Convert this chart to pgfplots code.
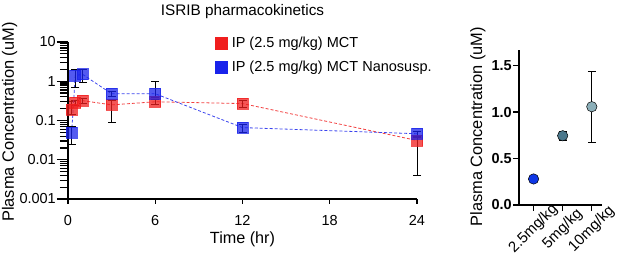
\documentclass[border=0pt]{standalone}
\usepackage{pgfplots}
\pgfplotsset{compat=1.18}
\usepackage{fontspec}
\setmainfont{Liberation Sans}
\definecolor{pkred}{RGB}{240,30,30}
\definecolor{pkblue}{RGB}{25,35,235}
\definecolor{dA}{RGB}{15,55,230}
\definecolor{dB}{RGB}{75,120,140}
\definecolor{dC}{RGB}{140,175,185}
\begin{document}
\fontsize{14.5bp}{17bp}\selectfont
\begin{tikzpicture}
\useasboundingbox (0,0) rectangle (617bp,260bp);
\begin{axis}[
  at={(68bp,61bp)}, anchor=south west, scale only axis,
  width=349bp, height=157bp,
  xmin=0, xmax=24, ymode=log, ymin=0.001, ymax=10,
  axis lines=left, axis line style={-, line width=1.6bp},
  xtick={0,6,12,18,24},
  ytick={0.001,0.01,0.1,1,10},
  yticklabels={0.001,0.01,0.1,1,10},
  minor ytick={0.002,0.003,0.004,0.005,0.006,0.007,0.008,0.009,0.02,0.03,0.04,0.05,0.06,0.07,0.08,0.09,0.2,0.3,0.4,0.5,0.6,0.7,0.8,0.9,2,3,4,5,6,7,8,9},
  tick align=outside,
  major tick length=11bp, minor tick length=8bp,
  xtick style={/pgfplots/major tick length=5bp},
  every tick/.style={black, line width=1.2bp},
  tick label style={font=\fontsize{14.5bp}{17bp}\selectfont},
  /pgf/number format/assume math mode=true,
  yticklabel style={inner sep=1bp},
  title={ISRIB pharmacokinetics},
  title style={at={(axis description cs:0.5,1)}, anchor=base, yshift=21bp, font=\fontsize{15.3bp}{18bp}\selectfont},
  xlabel={Time (hr)},
  xlabel style={at={(axis description cs:0.5,0)}, anchor=center, yshift=-40bp, font=\fontsize{16.2bp}{19bp}\selectfont},
  ylabel={Plasma Concentration (uM)},
  ylabel style={at={(axis description cs:-0.167,0.49)}, anchor=center, font=\fontsize{16.4bp}{19bp}\selectfont},
  clip=false,
  legend style={at={(axis description cs:0.42,1.045)}, anchor=north west, draw=none, fill=none,
    font=\fontsize{14.5bp}{17bp}\selectfont, row sep=7bp, column sep=3bp, inner sep=0pt},
  legend cell align=left,
]
\addlegendimage{only marks, mark=square*, mark size=6bp, mark options={draw=pkred, fill=pkred}}
\addlegendentry{IP (2.5 mg/kg) MCT}
\addlegendimage{only marks, mark=square*, mark size=6bp, mark options={draw=pkblue, fill=pkblue}}
\addlegendentry{IP (2.5 mg/kg) MCT Nanosusp.}
\addplot[pkred!85, densely dashed, line width=0.8bp, mark=square*, mark size=5.5bp,
  mark options={solid, draw=pkred, fill=pkred, opacity=0.75},
  error bars/.cd, y dir=both, y explicit,
  error bar style={black, line width=0.8bp, solid},
  error mark options={rotate=90, mark size=4bp, black, line width=0.8bp}]
coordinates {
 (0.25,0.19) += (0,0.11) -= (0,0.05)
 (0.5,0.28) += (0,0.04) -= (0,0.04)
 (1,0.32) += (0,0.05) -= (0,0.05)
 (3,0.25) += (0,0.08) -= (0,0.16)
 (6,0.30) += (0,0.05) -= (0,0.05)
 (12,0.27) += (0,0.06) -= (0,0.05)
 (24,0.031) += (0,0.008) -= (0,0.027)
};
\addplot[pkblue!85, densely dashed, line width=0.8bp, mark=square*, mark size=5.5bp,
  mark options={solid, draw=pkblue, fill=pkblue, opacity=0.75},
  error bars/.cd, y dir=both, y explicit,
  error bar style={black, line width=0.8bp, solid},
  error mark options={rotate=90, mark size=4bp, black, line width=0.8bp}]
coordinates {
 (0.25,0.049) += (0,0.02) -= (0,0.025)
 (0.5,1.4) += (0,0.6) -= (0,0.7)
 (1,1.5) += (0,0.5) -= (0,0.55)
 (3,0.48) += (0,0.08) -= (0,0.08)
 (6,0.48) += (0,0.52) -= (0,0.1)
 (12,0.066) += (0,0.012) -= (0,0.015)
 (24,0.046) += (0,0.008) -= (0,0.008)
};
\end{axis}
\begin{axis}[
  at={(519bp,55bp)}, anchor=south west, scale only axis,
  width=83bp, height=155bp,
  xmin=-0.5, xmax=2.35, ymin=0, ymax=1.667,
  axis lines=left, axis line style={-, line width=1.6bp},
  xtick={0,1,2}, xticklabels={2.5mg/kg,5mg/kg,10mg/kg},
  ytick={0,0.5,1,1.5},
  yticklabel style={/pgf/number format/fixed, /pgf/number format/fixed zerofill, /pgf/number format/precision=1, font=\bfseries\fontsize{14.5bp}{17bp}\selectfont, inner sep=1bp},
  /pgf/number format/assume math mode=true,
  tick align=outside, major tick length=6bp,
  every tick/.style={black, line width=1.2bp},
  xticklabel style={yshift=-18bp, rotate=45, anchor=center, inner sep=0pt, font=\fontsize{15bp}{17bp}\selectfont},
  ylabel={Plasma Concentration (uM)},
  ylabel style={at={(axis description cs:-0.494,0.505)}, anchor=center, font=\fontsize{16.4bp}{19bp}\selectfont},
  clip=false,
]
\addplot[only marks, mark=*, mark size=5.2bp, mark options={fill=dA, draw=black, line width=0.5bp},
  error bars/.cd, y dir=both, y explicit,
  error bar style={black, line width=0.8bp},
  error mark options={rotate=90, mark size=4bp, black, line width=0.8bp}]
coordinates {(0,0.28) +- (0,0.03)};
\addplot[only marks, mark=*, mark size=5.2bp, mark options={fill=dB, draw=black, line width=0.5bp},
  error bars/.cd, y dir=both, y explicit,
  error bar style={black, line width=0.8bp},
  error mark options={rotate=90, mark size=4bp, black, line width=0.8bp}]
coordinates {(1,0.745) +- (0,0.045)};
\addplot[only marks, mark=*, mark size=5.2bp, mark options={fill=dC, draw=black, line width=0.5bp},
  error bars/.cd, y dir=both, y explicit,
  error bar style={black, line width=0.8bp},
  error mark options={rotate=90, mark size=4bp, black, line width=0.8bp}]
coordinates {(2,1.057) += (0,0.38) -= (0,0.38)};
\end{axis}
\end{tikzpicture}
\end{document}
